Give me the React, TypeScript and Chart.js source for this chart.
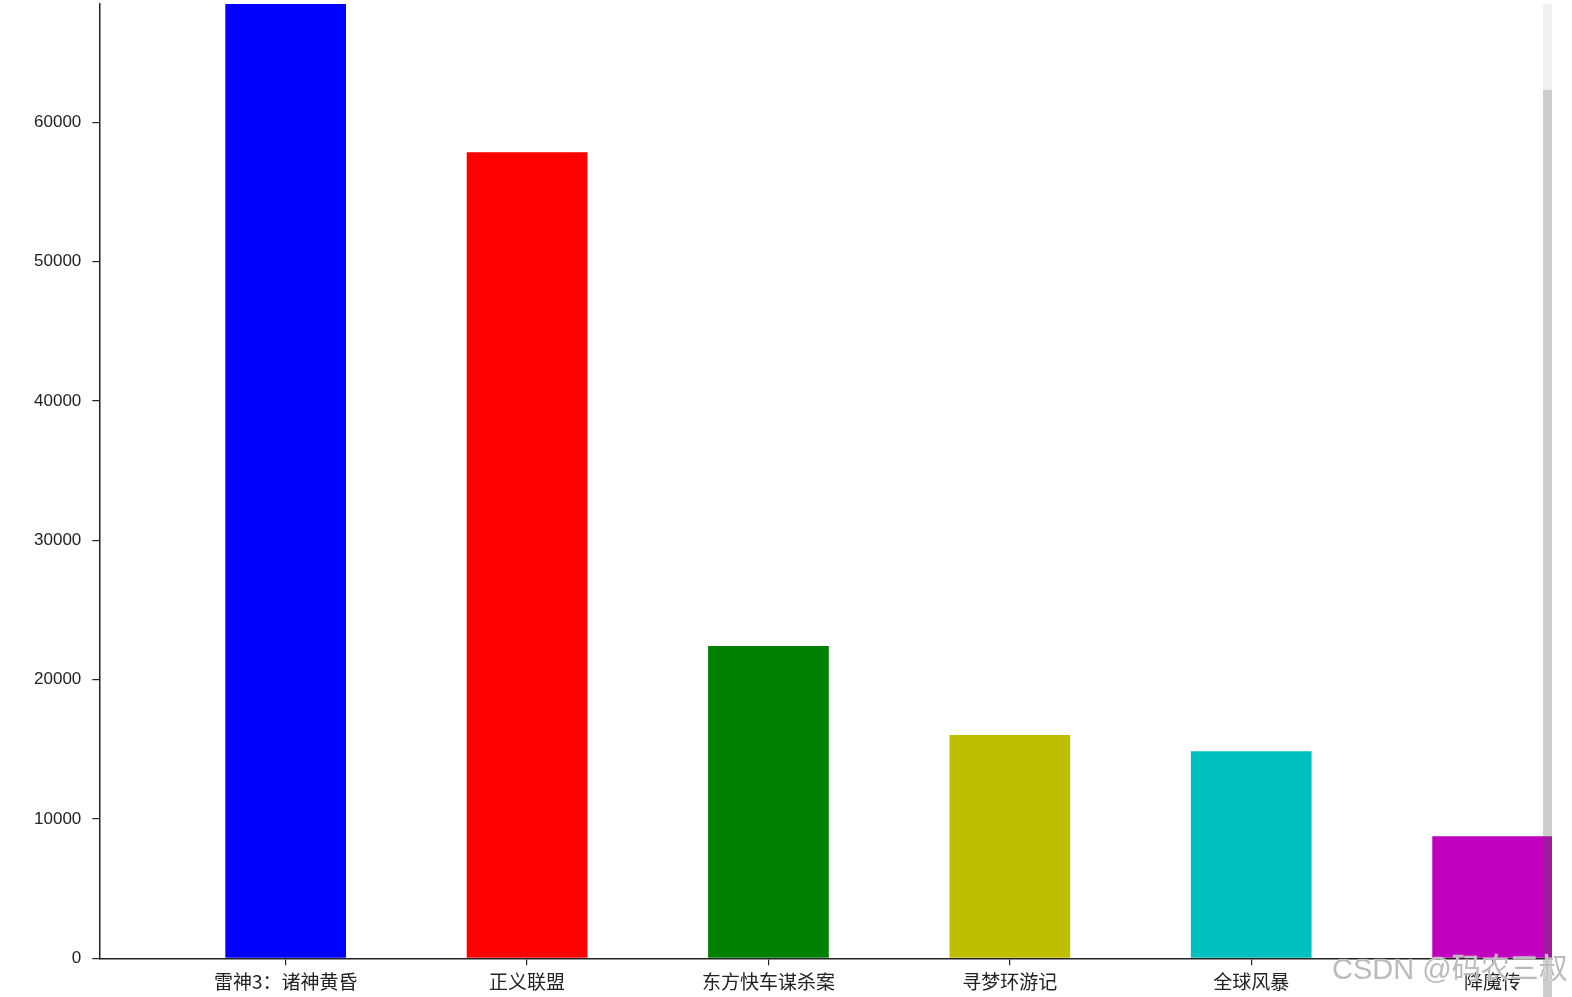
import React, { useEffect, useRef } from "react";
import { Chart, registerables } from "chart.js";

Chart.register(...registerables);

const categories = ["雷神3：诸神黄昏", "正义联盟", "东方快车谋杀案", "寻梦环游记", "全球风暴", "降魔传"];
const boxOffice = [74000, 57850, 22410, 16030, 14860, 8760];
const barColors = ["#0000ff", "#ff0000", "#008000", "#bfbf00", "#00bfbf", "#bf00bf"];
const yTicks = [0, 10000, 20000, 30000, 40000, 50000, 60000];

export default function App() {
  const canvasRef = useRef<HTMLCanvasElement | null>(null);

  useEffect(() => {
    const canvas = canvasRef.current;
    if (!canvas) return;
    const chart = new Chart(canvas, {
      type: "bar",
      data: {
        datasets: [
          {
            data: boxOffice.map((v, i) => ({ x: i, y: v })),
            backgroundColor: barColors,
            borderWidth: 0,
            barPercentage: 1,
            categoryPercentage: 0.5,
          },
        ],
      },
      options: {
        responsive: false,
        animation: false,
        layout: { padding: { top: 4, right: 20, left: 0, bottom: 0 } },
        plugins: { legend: { display: false }, tooltip: { enabled: false } },
        scales: {
          x: {
            type: "linear",
            min: -0.772,
            max: 5.246,
            offset: false,
            grid: { display: true, offset: false, drawOnChartArea: false, drawTicks: true, tickLength: 7, color: "#222", lineWidth: 1.2 },
            border: { display: true, color: "#222", width: 1.5 },
            ticks: {
              autoSkip: false,
              maxRotation: 0,
              minRotation: 0,
              padding: 5,
              color: "#222",
              font: { family: "'Noto Sans CJK SC', sans-serif", size: 19 },
              callback: (v: any) => categories[Number(v)] ?? "",
            },
            afterBuildTicks: (scale: any) => {
              scale.ticks = categories.map((_, i) => ({ value: i }));
            },
            afterFit: (scale: any) => {
              scale.height = 38.7;
              scale.paddingLeft = 0;
              scale.paddingRight = 0;
            },
          },
          y: {
            min: 0,
            max: 68500,
            grid: { display: true, drawOnChartArea: false, drawTicks: true, tickLength: 7, color: "#222", lineWidth: 1.2 },
            border: { display: true, color: "#222", width: 1.5 },
            ticks: {
              padding: 11,
              color: "#222",
              font: { family: "'Liberation Sans', Arial, sans-serif", size: 17 },
              callback: (v: any) => String(v),
            },
            afterBuildTicks: (scale: any) => {
              scale.ticks = yTicks.map((v) => ({ value: v }));
            },
            afterFit: (scale: any) => {
              scale.width = 99.3;
              scale.paddingTop = 0;
              scale.paddingBottom = 0;
            },
          },
        },
      },
    });
    return () => chart.destroy();
  }, []);

  return (
    <div style={{ position: "fixed", left: 0, top: 0, width: 1572, height: 997, background: "#fff", overflow: "hidden" }}>
      <canvas ref={canvasRef} width={1572} height={997} style={{ display: "block", width: 1572, height: 997 }} />
      <div style={{ position: "absolute", left: 1543, top: 4, width: 9, height: 86, background: "rgba(0,0,0,0.06)" }} />
      <div style={{ position: "absolute", left: 1543, top: 90, width: 9, height: 907, background: "rgba(90,90,90,0.3)" }} />
      <span
        style={{
          position: "absolute",
          left: 1332,
          top: 955,
          fontFamily: "'Liberation Sans', 'Noto Sans CJK SC', sans-serif",
          fontSize: 29,
          lineHeight: "29px",
          whiteSpace: "nowrap",
          color: "rgba(175,175,175,0.85)",
          textShadow: "0 0 1px #fff, 0 0 1px #fff",
        }}
      >
        CSDN @码农三叔
      </span>
    </div>
  );
}
